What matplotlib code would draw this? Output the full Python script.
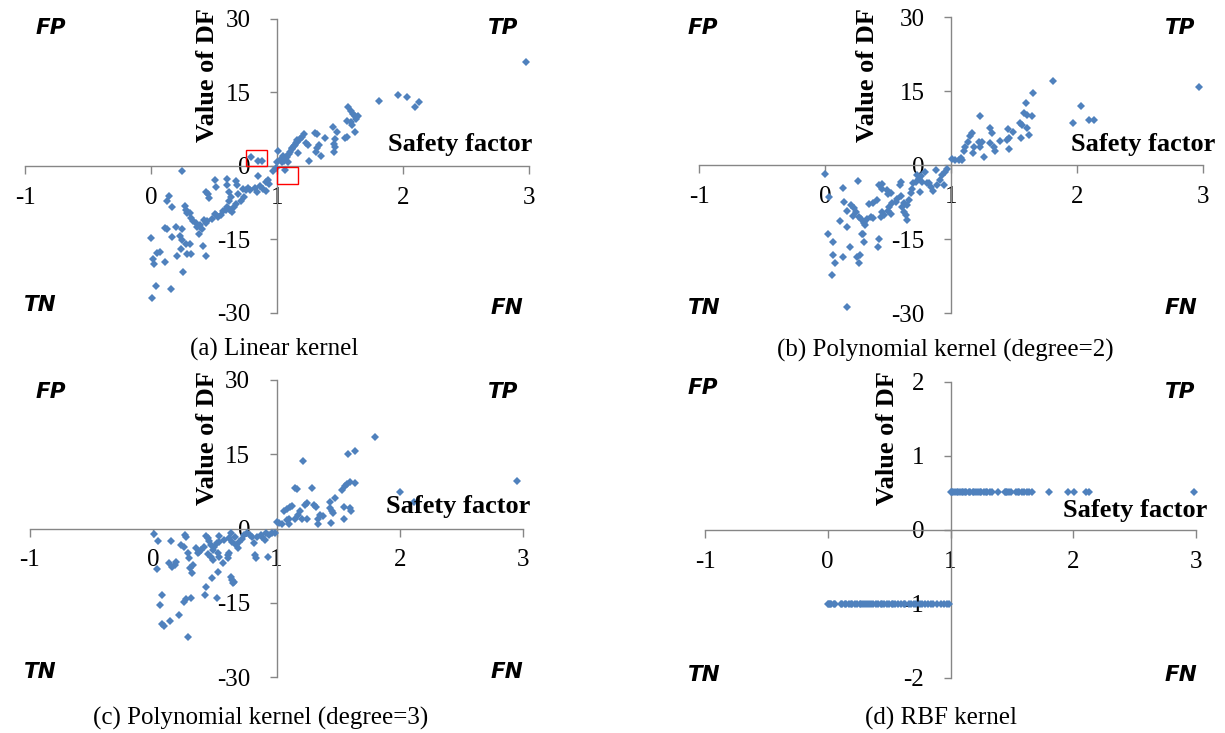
import matplotlib
matplotlib.use("Agg")
import matplotlib.pyplot as plt
from matplotlib.transforms import Bbox, TransformedBbox
from matplotlib.patches import Rectangle

# ---------------- data ----------------
# (a) Linear kernel
sf_lin = [0.243, 0.79, 0.849, 0.884, 0.968, 0.849, 0.915, 0.931, 0.508, 0.606, 0.601, 0.672, 0.685,
          0.519, 0.751, 0.772, 0.785, 0.823, 0.839, 0.862, 0.915, 0.439, 0.452, 0.46, 0.619, 0.632,
          0.693, 0.717, 0.672, 0.619, 0.606, 0.593, 0.627, 0.646, 0.558, 0.534, 0.505, 0.481, 0.447,
          0.434, 0.421, 0.386, 0.368, 0.402, 0.381, 0.354, 0.333, 0.315, 0.307, 0.288, 0.27, 0.275,
          0.143, 0.124, 0.169, 0.196, 0.249, 0.23, 0.249, 0.275, 0.307, 0.235, 0.288, 0.164, 0.124,
          0.111, 0.0, 0.071, 0.05, 0.016, 0.024, 0.111, 0.209, 0.315, 0.413, 0.434, 0.257, 0.037,
          0.161, 0.01, 0.99, 0.89, 0.94, 0.519, 0.57, 0.66, 0.74, 0.729,
          1.0, 1.029, 1.048, 1.074, 1.103, 1.122, 1.143, 1.161, 2.974, 1.81, 1.963, 2.03, 2.095,
          2.13, 1.566, 1.585, 1.603, 1.619, 1.646, 1.63, 1.558, 1.585, 1.593, 1.619, 1.558, 1.54,
          1.444, 1.479, 1.46, 1.452, 1.46, 1.452, 1.38, 1.32, 1.302, 1.333, 1.32, 1.312, 1.346,
          1.254, 1.214, 1.196, 1.18, 1.233, 1.246, 1.161, 1.148, 1.135, 1.122, 1.169, 1.095, 1.082,
          1.042, 1.056, 1.037, 1.011, 1.09, 1.063]
df_lin = [-1.09, 1.77, 1.02, 1.02, -0.95, -2.11, -3.2, -2.79, -2.79, -2.65, -3.81, -2.99, -3.88,
          -4.35, -4.83, -4.56, -4.9, -4.56, -5.24, -4.01, -5.03, -5.24, -5.78, -6.6, -5.37, -6.39,
          -5.71, -7.07, -7.76, -7.07, -8.44, -8.98, -8.98, -9.46, -10.1, -10.48, -9.8, -10.82, -11.16,
          -11.63, -11.0, -12.04, -12.52, -12.86, -13.88, -11.63, -11.16, -10.68, -9.59, -9.59, -8.1, -8.91,
          -6.05, -7.07, -8.44, -12.52, -12.86, -14.35, -15.1, -15.92, -15.92, -16.94, -17.96, -14.42, -12.86,
          -12.72, -14.76, -17.62, -17.76, -18.98, -20.0, -19.66, -18.3, -17.96, -16.26, -18.3, -21.7, -24.5,
          -25.1, -26.94, -0.5, -4.7, -3.7, -10.1, -9.1, -8.4, -6.4, -4.6,
          0.75, 1.43, 2.1, 1.77, 2.79, 3.47, 4.29, 4.97, 21.3, 13.3, 14.5, 14.0, 12.1,
          13.0, 12.0, 11.3, 10.7, 10.3, 10.2, 9.6, 9.2, 8.9, 8.4, 6.9, 5.9, 5.7,
          7.9, 6.9, 5.5, 4.5, 3.8, 2.8, 5.8, 6.5, 6.7, 4.2, 3.6, 2.9, 2.0,
          1.1, 6.5, 6.0, 5.6, 4.7, 4.3, 5.4, 4.7, 4.0, 3.7, 2.6, 2.4, 1.8,
          1.4, 1.1, 0.9, 3.1, 0.8, -0.8]

# (b) Polynomial kernel (degree=2)
sf_poly2 = [0.0, 0.034, 0.14, 0.258, 0.153, 0.206, 0.232, 0.245, 0.174, 0.219, 0.121, 0.174, 0.021,
            0.061, 0.061, 0.082, 0.053, 0.14, 0.2, 0.253, 0.279, 0.271, 0.174, 0.298, 0.311, 0.271,
            0.285, 0.306, 0.316, 0.337, 0.369, 0.35, 0.377, 0.411, 0.43, 0.417, 0.443, 0.469, 0.456,
            0.5, 0.509, 0.522, 0.535, 0.561, 0.575, 0.601, 0.614, 0.627, 0.64, 0.654, 0.654, 0.667,
            0.68, 0.693, 0.701, 0.72, 0.746, 0.764, 0.791, 0.806, 0.825, 0.843, 0.859, 0.877, 0.885,
            0.912, 0.93, 0.949, 0.97, 0.943, 0.43, 0.449, 0.456, 0.49, 0.522, 0.5, 0.593, 0.601,
            0.728, 0.772, 0.754, 0.627, 0.377, 0.29,
            2.972, 1.813, 2.03, 1.966, 2.097, 2.134, 1.65, 1.597, 1.576, 1.602, 1.642, 1.549, 1.562,
            1.607, 1.557, 1.623, 1.449, 1.491, 1.457, 1.444, 1.457, 1.386, 1.307, 1.325, 1.312, 1.338,
            1.351, 1.228, 1.246, 1.22, 1.186, 1.228, 1.259, 1.175, 1.167, 1.149, 1.133, 1.115, 1.101,
            1.088, 1.08, 1.062, 1.035, 1.009]
df_poly2 = [-1.83, -6.43, -4.73, -3.18, -7.44, -8.11, -8.79, -9.46, -9.26, -10.34, -11.29, -12.64, -14.06,
            -15.55, -18.25, -19.94, -22.3, -18.73, -16.7, -18.73, -18.25, -19.81, -28.7, -14.0, -15.55, -10.6,
            -11.0, -11.8, -12.2, -11.0, -10.5, -7.9, -7.8, -7.1, -14.9, -16.6, -10.5, -10.1, -9.5,
            -9.3, -8.5, -9.9, -7.8, -7.4, -6.97, -6.29, -8.45, -9.46, -10.14, -11.16, -8.1, -7.1,
            -5.75, -4.94, -3.72, -3.38, -2.91, -2.23, -1.35, -3.58, -3.72, -4.4, -5.2, -1.01, -4.06,
            -3.04, -2.03, -1.35, -0.88, -4.06, -4.06, -3.86, -4.94, -5.07, -5.61, -5.88, -4.06, -3.38,
            -2.03, -3.38, -5.41, -7.78, -10.8, -13.9,
            15.9, 17.1, 12.0, 8.5, 9.2, 9.2, 14.5, 12.6, 10.5, 10.1, 9.9, 8.6, 8.1,
            7.6, 5.4, 6.1, 7.2, 6.7, 5.4, 5.1, 3.2, 4.9, 7.4, 6.4, 4.4, 3.6,
            2.9, 9.9, 4.7, 4.7, 3.6, 3.6, 1.7, 2.5, 6.5, 5.9, 4.7, 3.6, 2.9,
            1.0, 1.35, 1.0, 1.0, 1.15]

# (c) Polynomial kernel (degree=3)
sf_poly3 = [0.006, 0.04, 0.027, 0.14, 0.067, 0.054, 0.067, 0.086, 0.134, 0.209, 0.281, 0.247, 0.268,
            0.309, 0.129, 0.156, 0.175, 0.188, 0.255, 0.268, 0.228, 0.247, 0.281, 0.289, 0.3, 0.316,
            0.322, 0.362, 0.375, 0.389, 0.408, 0.429, 0.442, 0.456, 0.469, 0.482, 0.496, 0.515, 0.531,
            0.469, 0.482, 0.523, 0.531, 0.442, 0.523, 0.477, 0.429, 0.416, 0.515, 0.563, 0.603, 0.576,
            0.616, 0.63, 0.643, 0.665, 0.67, 0.684, 0.697, 0.718, 0.737, 0.764, 0.783, 0.804, 0.817,
            0.825, 0.831, 0.844, 0.871, 0.884, 0.911, 0.938, 0.965, 0.986, 0.906, 0.933, 0.63, 0.643,
            0.649, 0.657, 0.616, 0.603, 0.348, 0.531,
            2.948, 1.796, 2.004, 2.117, 1.214, 1.581, 1.635, 1.152, 1.166, 1.292, 1.576, 1.594, 1.635,
            1.533, 1.554, 1.474, 1.434, 1.059, 1.086, 1.112, 1.126, 1.174, 1.193, 1.233, 1.246, 1.206,
            1.246, 1.152, 1.099, 1.086, 1.104, 1.045, 1.018, 1.0, 1.308, 1.321, 1.34, 1.353, 1.34,
            1.38, 1.434, 1.447, 1.461, 1.442, 1.549, 1.594, 1.608, 1.549]
df_poly3 = [-1.11, -2.46, -8.25, -2.46, -13.43, -15.45, -19.3, -19.6, -18.6, -17.5, -21.85, -14.8, -14.3,
            -14.1, -6.9, -7.7, -7.4, -6.7, -1.31, -1.78, -3.33, -3.67, -5.02, -6.03, -8.05, -9.06,
            -7.37, -5.02, -4.68, -4.34, -3.67, -1.52, -1.99, -2.46, -3.33, -4.34, -3.67, -3.0, -2.66,
            -5.69, -6.36, -5.02, -5.69, -5.15, -8.72, -10.07, -11.8, -13.43, -14.1, -7.04, -6.03, -2.33,
            -1.99, -0.98, -2.66, -1.78, -3.33, -4.0, -2.66, -2.19, -1.31, -0.98, -1.31, -1.65, -3.0,
            -5.35, -6.03, -1.65, -1.31, -1.78, -0.98, -1.31, -0.98, -0.84, -2.33, -5.69, -9.87, -10.4,
            -11.07, -10.74, -5.02, -5.35, -4.0, -1.52,
            9.6, 18.4, 7.3, 5.4, 13.6, 15.0, 15.7, 8.1, 8.0, 8.2, 9.0, 9.3, 9.1,
            7.8, 8.6, 6.2, 5.4, 3.6, 3.9, 4.3, 4.6, 2.7, 3.6, 4.8, 5.1, 1.9,
            1.9, 2.0, 1.9, 1.7, 1.0, 1.0, 1.2, 1.4, 4.8, 4.4, 2.0, 2.7, 1.0,
            2.5, 4.1, 3.6, 3.1, 1.2, 4.4, 4.1, 3.6, 2.0]

# (d) RBF kernel
sf_rbf_pos = [1.0, 1.01, 1.02, 1.04, 1.05, 1.06, 1.08, 1.09, 1.1, 1.12, 1.13, 1.15, 1.16, 1.18, 1.19,
              1.21, 1.22, 1.24, 1.25, 1.27, 1.29, 1.3, 1.32, 1.34, 1.39, 1.44, 1.45, 1.46, 1.48, 1.49,
              1.53, 1.55, 1.56, 1.58, 1.6, 1.62, 1.64, 1.66, 1.8, 1.96, 2.01, 2.1, 2.13, 2.98]
df_rbf_pos = 0.52
sf_rbf_neg = [0.0, 0.01, 0.02, 0.03, 0.05, 0.06, 0.11, 0.12, 0.14, 0.15, 0.17, 0.19, 0.2, 0.22, 0.24,
              0.26, 0.27, 0.29, 0.3, 0.32, 0.34, 0.35, 0.37, 0.39, 0.41, 0.43, 0.44, 0.46, 0.48, 0.5,
              0.52, 0.53, 0.55, 0.57, 0.6, 0.62, 0.63, 0.66, 0.68, 0.7, 0.72, 0.75, 0.77, 0.79, 0.82,
              0.84, 0.86, 0.89, 0.92, 0.95, 0.97, 0.99]
df_rbf_neg = -1.0

x_ticks = [-1, 0, 1, 2, 3]
y_ticks_poly = [-30, -15, 0, 15, 30]
y_ticks_rbf = [-2, -1, 0, 1, 2]
captions = ["(a) Linear kernel", "(b) Polynomial kernel (degree=2)",
            "(c) Polynomial kernel (degree=3)", "(d) RBF kernel"]

# ---------------- drawing ----------------
W, H = 1225, 733
fig = plt.figure(figsize=(W / 100, H / 100), dpi=100)
plt.rcParams['font.family'] = ['Liberation Serif', 'DejaVu Serif']

BLUE = '#4F81BD'
GRAY = '#868686'
MS = 3.9


def fx(px):
    return px / W


def fy(py):
    return 1 - py / H


def make_axes(left, right, top, bottom, yticks):
    ax = fig.add_axes([fx(left), fy(bottom), (right - left) / W, (bottom - top) / H])
    ax.set_xlim(x_ticks[0], x_ticks[-1])
    ax.set_ylim(yticks[0], yticks[-1])
    ax.patch.set_alpha(0)
    for s in ['top', 'right']:
        ax.spines[s].set_visible(False)
    ax.spines['left'].set_position(('data', 1))
    ax.spines['bottom'].set_position(('data', 0))
    for s in ['left', 'bottom']:
        ax.spines[s].set_color(GRAY)
        ax.spines[s].set_linewidth(1.0)
    ax.set_xticks(x_ticks)
    ax.set_xticklabels([str(v) for v in x_ticks])
    ax.set_yticks(yticks)
    ax.set_yticklabels([str(v) for v in yticks])
    ax.tick_params(axis='x', direction='out', length=6, width=1.0, color=GRAY,
                   labelsize=18, pad=9)
    ax.tick_params(axis='y', direction='out', length=5, width=1.0, color=GRAY,
                   labelsize=18, pad=14)
    return ax


panels = [
    dict(box=(25, 529, 19, 313), yt=y_ticks_poly, sf=sf_lin, df=df_lin),
    dict(box=(699, 1203, 17, 313), yt=y_ticks_poly, sf=sf_poly2, df=df_poly2),
    dict(box=(30, 523, 380, 677), yt=y_ticks_poly, sf=sf_poly3, df=df_poly3),
    dict(box=(705, 1196, 382, 678), yt=y_ticks_rbf, sf=None, df=None),
]

axes = []
for p in panels:
    l, r, t, b = p['box']
    ax = make_axes(l, r, t, b, p['yt'])
    if p['sf'] is not None:
        ax.plot(p['sf'], p['df'], linestyle='none', marker='D', markersize=MS,
                markeredgewidth=0, color=BLUE, clip_on=False, zorder=3)
    axes.append(ax)

axes[3].plot(sf_rbf_pos, [df_rbf_pos] * len(sf_rbf_pos), linestyle='none', marker='D',
             markersize=MS, markeredgewidth=0, color=BLUE, clip_on=False, zorder=3)
axes[3].plot(sf_rbf_neg, [df_rbf_neg] * len(sf_rbf_neg), linestyle='none', marker='D',
             markersize=MS, markeredgewidth=0, color=BLUE, clip_on=False, zorder=3)

# red highlight boxes in panel (a)
axes[0].add_patch(Rectangle((0.75, 0.0), 0.17, 3.3, fill=False, edgecolor='#FF0000', lw=1.0, zorder=4))
axes[0].add_patch(Rectangle((1.0, -3.7), 0.17, 3.45, fill=False, edgecolor='#FF0000', lw=1.0, zorder=4))

# axis titles
sf_pos = [(532, 144), (1215, 144), (530, 507), (1207, 510)]
for (x, y) in sf_pos:
    fig.text(fx(x), fy(y), "Safety factor", fontsize=19, fontweight='bold',
             ha='right', va='center')

df_pos = [(207, 142, 0), (868, 142, 0), (207, 505, 366), (888, 505, 366)]
for (x, y, clip_top) in df_pos:
    t = fig.text(fx(x), fy(y), "Value of DF", fontsize=19, fontweight='bold',
                 rotation=90, ha='center', va='bottom')
    t.set_clip_box(TransformedBbox(Bbox([[0, fy(H)], [1, fy(clip_top)]]), fig.transFigure))
    t.set_clip_on(True)

# quadrant labels
quad = [
    [("FP", 51, 28), ("TP", 503, 28), ("TN", 40, 305), ("FN", 507, 308)],
    [("FP", 703, 28), ("TP", 1180, 28), ("TN", 704, 308), ("FN", 1181, 308)],
    [("FP", 51, 392), ("TP", 503, 392), ("TN", 40, 672), ("FN", 507, 672)],
    [("FP", 703, 388), ("TP", 1180, 392), ("TN", 704, 675), ("FN", 1181, 675)],
]
for group in quad:
    for (txt, x, y) in group:
        fig.text(fx(x), fy(y), txt, fontsize=15.5, fontweight='bold', fontstyle='oblique',
                 family=['DejaVu Sans'], ha='center', va='center')

# captions
cap_pos = [(274, 349), (945, 350), (261, 718), (941, 718)]
for cap, (x, y) in zip(captions, cap_pos):
    fig.text(fx(x), fy(y), cap, fontsize=18, ha='center', va='center')

fig.savefig("out.png", dpi=100)
